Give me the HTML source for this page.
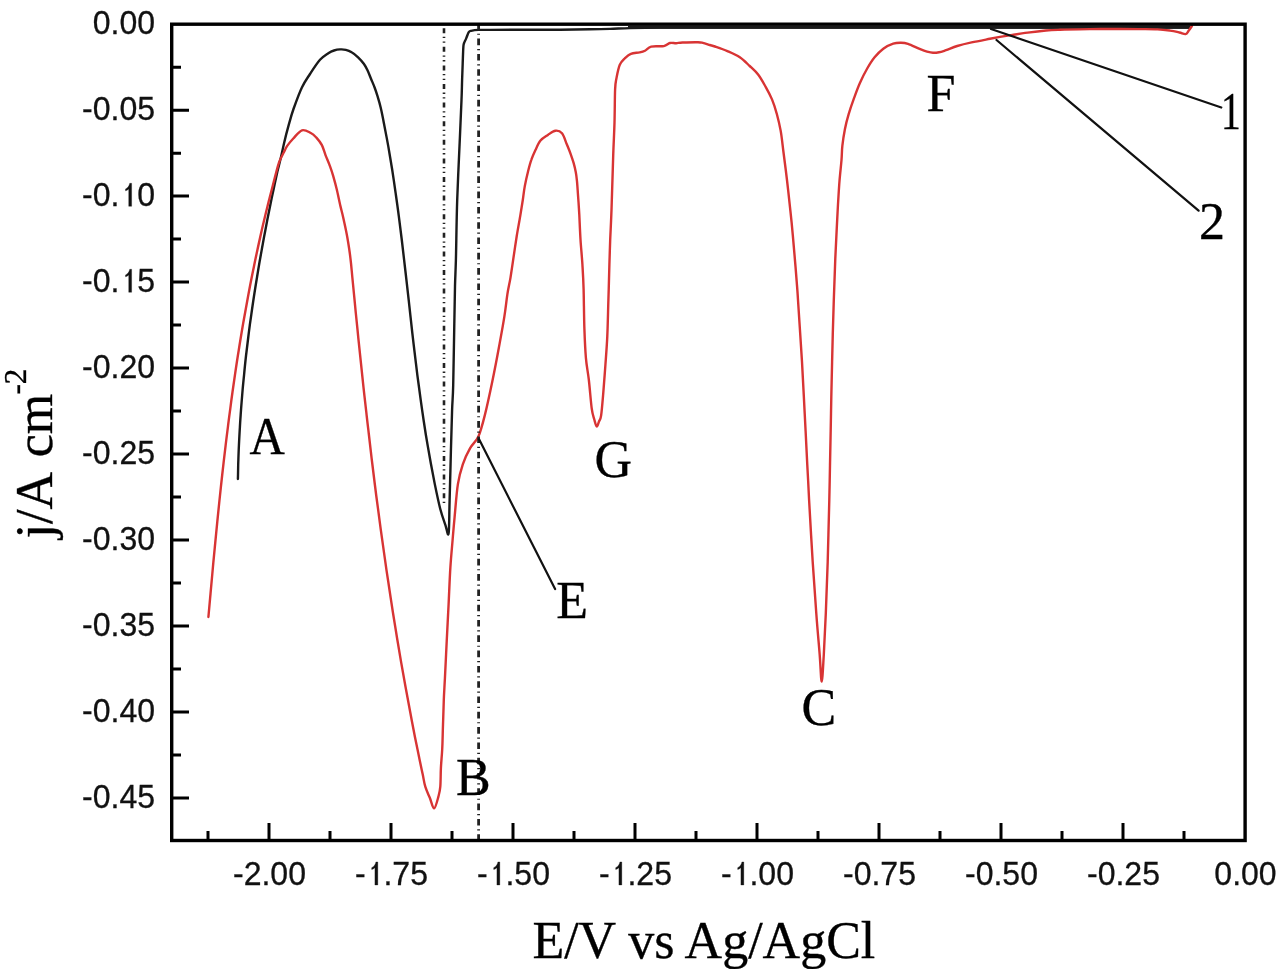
<!DOCTYPE html><html><head><meta charset="utf-8"><style>html,body{margin:0;padding:0;background:#fff;width:1280px;height:969px;overflow:hidden}svg{display:block;filter:blur(0.4px)}</style></head><body>
<svg width="1280" height="969" viewBox="0 0 1280 969">
<rect width="1280" height="969" fill="#fff"/>
<path d="M237.9,479.0 C238.0,476.6 238.1,469.9 238.2,464.3 C238.4,458.8 238.6,451.9 238.9,445.7 C239.2,439.5 239.5,433.3 239.9,427.1 C240.2,420.9 240.7,414.8 241.1,408.6 C241.6,402.4 242.1,395.6 242.6,390.0 C243.1,384.4 243.5,380.5 244.1,374.7 C244.6,368.9 245.4,361.3 246.1,355.0 C246.9,348.7 247.7,342.2 248.3,337.0 C248.9,331.8 249.1,330.4 250.0,323.7 C251.0,317.0 252.5,305.8 253.9,296.8 C255.2,287.9 256.8,278.6 258.2,270.0 C259.6,261.4 261.3,252.2 262.5,245.5 C263.7,238.8 264.1,236.5 265.4,230.0 C266.6,223.5 268.6,213.4 270.0,206.6 C271.3,199.8 272.3,195.1 273.6,189.3 C274.8,183.5 276.1,177.3 277.3,171.9 C278.6,166.5 279.9,161.8 281.0,157.1 C282.1,152.3 282.8,148.6 284.0,143.4 C285.2,138.2 286.8,131.8 288.4,126.1 C290.0,120.4 291.2,115.4 293.5,109.0 C295.8,102.6 299.1,93.3 301.9,87.5 C304.6,81.7 307.0,78.6 310.0,74.0 C313.0,69.4 316.9,63.3 320.0,59.8 C323.1,56.3 326.0,54.8 328.3,53.2 C330.6,51.7 332.1,51.1 334.0,50.5 C335.9,49.9 338.0,49.5 340.0,49.4 C342.0,49.3 343.9,49.3 345.8,49.8 C347.7,50.3 349.6,51.0 351.6,52.3 C353.7,53.5 356.1,55.4 358.1,57.3 C360.1,59.2 362.2,61.6 363.8,63.8 C365.4,66.0 366.3,67.8 367.5,70.3 C368.7,72.8 369.9,76.1 371.1,79.0 C372.3,81.9 373.6,84.8 374.7,87.7 C375.8,90.6 376.6,93.2 377.6,96.4 C378.6,99.7 379.6,102.7 380.6,107.2 C381.7,111.7 382.7,116.7 383.9,123.2 C385.2,129.7 386.9,138.7 388.3,146.4 C389.6,154.2 390.9,161.9 392.2,169.7 C393.4,177.4 394.5,185.2 395.6,192.9 C396.7,200.6 397.8,208.2 398.8,216.1 C399.8,223.9 400.7,230.8 401.8,240.0 C402.9,249.2 404.2,260.7 405.4,271.0 C406.6,281.3 407.7,291.6 408.9,301.9 C410.0,312.2 411.2,322.6 412.3,332.9 C413.5,343.2 414.9,355.1 416.0,363.8 C417.0,372.5 417.6,377.3 418.7,385.0 C419.7,392.7 420.9,401.6 422.1,409.8 C423.3,418.1 424.5,426.2 425.8,434.5 C427.2,442.8 428.6,451.0 430.1,459.3 C431.6,467.6 433.2,475.9 434.8,484.1 C436.5,492.4 438.5,501.9 440.2,508.8 C442.0,515.7 444.1,521.3 445.5,525.4 C446.9,529.5 447.9,537.5 448.6,533.4 C449.3,529.3 449.2,514.3 449.6,500.6 C450.0,486.9 450.5,466.1 450.9,451.0 C451.3,435.9 451.7,420.8 452.1,409.8 C452.5,398.8 452.9,398.3 453.2,385.0 C453.5,371.7 453.9,346.5 454.2,330.0 C454.5,313.5 454.7,297.7 455.0,286.0 C455.3,274.3 455.5,274.3 455.9,260.0 C456.3,245.7 456.5,220.8 457.2,200.0 C457.9,179.2 459.3,151.7 460.0,135.0 C460.7,118.3 461.1,109.2 461.5,100.0 C461.9,90.8 461.9,86.1 462.1,80.0 C462.3,73.9 462.5,68.6 462.7,63.3 C462.9,57.9 463.1,51.2 463.3,47.9 C463.5,44.6 463.4,45.0 463.9,43.5 C464.4,42.0 465.3,40.5 466.1,38.6 C466.9,36.8 467.8,33.7 468.6,32.4 C469.4,31.1 469.5,31.2 471.1,30.8 C472.8,30.4 475.4,30.0 478.5,29.9 C481.6,29.8 483.1,29.9 490.0,29.9 C496.9,29.9 508.3,29.7 520.0,29.7 C531.7,29.7 548.3,29.8 560.0,29.7 C571.7,29.6 581.7,29.4 590.0,29.3 C598.3,29.2 603.3,29.1 610.0,28.9 C616.7,28.7 621.7,28.3 630.0,28.1 C638.3,27.9 648.3,27.7 660.0,27.6 C671.7,27.5 676.7,27.5 700.0,27.5 C723.3,27.5 766.7,27.5 800.0,27.5 C833.3,27.5 866.7,27.5 900.0,27.5 C933.3,27.5 966.7,27.5 1000.0,27.5 C1033.3,27.5 1068.3,27.5 1100.0,27.5 C1131.7,27.5 1175.0,27.5 1190.0,27.5" fill="none" stroke="#1a1a1a" stroke-width="2.4" stroke-linejoin="round" stroke-linecap="round"/>
<path d="M628,27.35 H1190" stroke="#1a1a1a" stroke-width="3"/>
<path d="M208.4,617.0 C208.8,613.1 209.7,602.8 210.5,593.8 C211.3,584.8 212.4,573.2 213.3,562.9 C214.3,552.6 215.3,542.2 216.3,531.9 C217.3,521.6 218.4,510.5 219.4,501.0 C220.4,491.5 221.2,484.2 222.2,475.0 C223.2,465.8 224.6,453.7 225.6,445.7 C226.5,437.7 227.1,433.3 227.9,427.1 C228.6,420.9 229.5,414.5 230.3,408.6 C231.0,402.8 231.7,397.6 232.5,392.0 C233.3,386.4 234.0,381.6 235.0,374.7 C236.0,367.8 237.3,359.0 238.7,350.5 C240.0,342.0 241.6,332.6 243.1,323.7 C244.7,314.8 246.3,305.8 248.0,296.8 C249.6,287.9 251.6,277.8 253.2,270.0 C254.8,262.2 255.9,256.7 257.4,250.0 C258.8,243.3 260.4,236.4 261.8,230.0 C263.3,223.6 264.9,217.1 266.2,211.5 C267.6,205.9 268.5,202.1 269.9,196.7 C271.3,191.3 272.9,185.1 274.4,179.3 C276.0,173.5 277.6,166.5 279.2,162.0 C280.8,157.5 282.7,154.8 284.0,152.1 C285.3,149.4 285.6,148.2 287.2,145.9 C288.8,143.6 290.8,141.1 293.3,138.5 C295.8,135.9 299.1,131.2 302.0,130.3 C304.9,129.4 308.4,131.8 310.8,133.0 C313.2,134.2 314.5,135.6 316.4,137.6 C318.2,139.6 320.4,142.1 321.9,145.1 C323.4,148.1 324.4,152.1 325.6,155.3 C326.9,158.6 328.1,161.2 329.4,164.6 C330.6,168.0 331.9,171.5 333.1,175.7 C334.3,179.9 335.6,184.5 336.8,189.6 C338.0,194.7 339.4,201.8 340.5,206.4 C341.6,211.1 342.1,212.3 343.2,217.5 C344.3,222.7 346.1,230.4 347.3,237.3 C348.5,244.2 349.7,251.7 350.5,258.8 C351.4,265.9 351.7,271.0 352.6,280.0 C353.5,289.0 354.9,303.4 355.8,313.0 C356.8,322.6 357.5,329.5 358.3,337.8 C359.2,346.1 360.0,354.4 360.9,362.6 C361.7,370.9 362.6,379.1 363.5,387.3 C364.4,395.6 365.4,404.5 366.3,412.1 C367.1,419.7 367.7,424.5 368.7,433.0 C369.6,441.5 370.9,452.5 372.2,463.0 C373.5,473.5 374.9,485.0 376.3,496.0 C377.8,507.0 379.3,518.6 380.7,529.1 C382.1,539.6 383.6,550.0 384.9,558.8 C386.1,567.6 386.9,573.0 388.3,582.0 C389.6,591.0 391.6,603.7 393.0,613.0 C394.5,622.3 395.7,629.5 397.0,637.8 C398.4,646.1 399.8,654.4 401.2,662.6 C402.6,670.9 404.1,679.1 405.6,687.3 C407.1,695.5 408.6,703.7 410.2,712.0 C411.7,720.3 413.6,729.9 415.0,737.2 C416.5,744.5 417.5,749.5 418.8,755.7 C420.0,761.9 421.6,769.1 422.7,774.3 C423.8,779.5 424.1,782.8 425.3,786.7 C426.5,790.6 428.3,794.2 429.8,797.8 C431.3,801.4 432.7,808.6 434.1,808.4 C435.5,808.2 437.4,800.2 438.4,796.6 C439.4,793.0 439.9,791.5 440.3,786.7 C440.7,782.0 440.6,774.3 440.9,768.1 C441.2,761.9 441.8,756.7 442.2,749.5 C442.6,742.3 442.7,733.0 443.0,724.8 C443.3,716.5 443.5,707.7 443.8,700.0 C444.1,692.3 444.4,688.4 444.9,678.6 C445.4,668.9 446.1,653.9 446.7,641.5 C447.3,629.1 448.0,616.7 448.6,604.3 C449.2,591.9 449.7,577.9 450.4,567.2 C451.1,556.5 451.9,548.4 452.6,540.0 C453.3,531.6 453.7,526.4 454.6,517.1 C455.5,507.8 456.5,492.9 457.9,484.1 C459.3,475.3 460.8,470.3 462.8,464.3 C464.8,458.3 467.4,452.9 470.0,448.3 C472.6,443.7 475.9,442.1 478.4,436.5 C480.9,430.9 482.6,424.1 484.9,414.9 C487.2,405.7 490.0,392.6 492.3,381.5 C494.6,370.4 496.8,358.9 498.8,348.0 C500.8,337.1 503.0,325.4 504.4,316.4 C505.8,307.4 506.4,300.6 507.4,294.1 C508.4,287.6 509.5,283.8 510.5,277.6 C511.5,271.4 512.6,263.8 513.6,256.9 C514.6,250.0 515.6,243.2 516.7,236.3 C517.8,229.4 519.3,221.7 520.3,215.6 C521.3,209.5 522.0,204.9 522.8,200.0 C523.5,195.1 523.9,190.9 524.8,186.1 C525.7,181.3 527.0,175.6 528.1,171.2 C529.2,166.8 530.1,163.2 531.4,159.6 C532.6,156.0 534.1,152.9 535.6,149.7 C537.1,146.5 538.5,143.1 540.5,140.6 C542.5,138.1 545.4,136.6 547.9,134.9 C550.4,133.2 553.0,131.0 555.4,130.7 C557.8,130.4 560.1,131.0 562.0,133.3 C563.9,135.6 565.4,140.9 566.8,144.3 C568.2,147.7 569.4,150.5 570.5,153.6 C571.6,156.7 572.7,159.8 573.6,162.9 C574.5,166.0 575.2,169.1 575.8,172.2 C576.4,175.3 576.6,177.6 577.0,181.4 C577.4,185.2 577.7,191.1 578.0,195.0 C578.3,198.9 578.5,201.7 578.7,205.0 C578.9,208.3 579.0,209.1 579.3,214.8 C579.6,220.6 580.0,231.2 580.5,239.5 C581.0,247.8 581.9,256.0 582.4,264.3 C582.9,272.6 583.3,278.3 583.6,289.1 C583.9,299.9 584.0,317.4 584.4,328.9 C584.8,340.3 585.2,349.4 585.9,357.8 C586.6,366.2 587.8,371.1 588.8,379.5 C589.8,387.9 590.8,401.7 591.7,408.4 C592.6,415.1 593.5,416.5 594.3,419.5 C595.1,422.5 595.9,426.1 596.7,426.4 C597.5,426.7 598.3,423.3 599.0,421.5 C599.7,419.7 600.4,420.2 601.1,415.6 C601.8,411.0 602.5,402.3 603.2,393.9 C603.9,385.5 604.7,374.6 605.4,365.0 C606.1,355.4 606.8,346.9 607.3,336.1 C607.8,325.3 608.0,312.0 608.4,300.0 C608.8,288.0 609.1,274.4 609.4,264.3 C609.7,254.2 609.9,248.6 610.2,239.5 C610.6,230.4 611.0,224.0 611.5,210.0 C612.0,196.0 612.7,170.2 613.2,155.6 C613.7,141.0 614.2,133.6 614.5,122.6 C614.8,111.6 614.8,96.9 615.1,89.5 C615.4,82.1 615.7,82.1 616.5,78.0 C617.3,73.9 618.4,68.0 619.8,64.8 C621.2,61.5 622.9,60.3 624.7,58.5 C626.6,56.7 628.4,54.8 630.9,53.8 C633.4,52.8 637.1,52.9 639.5,52.4 C641.9,51.9 643.0,51.7 645.0,50.7 C647.0,49.7 648.1,47.4 651.2,46.6 C654.4,45.8 660.6,46.7 663.8,46.1 C666.9,45.5 667.9,43.5 670.0,43.0 C672.1,42.5 674.2,43.3 676.2,43.2 C678.3,43.1 678.9,42.6 682.5,42.5 C686.1,42.4 694.6,42.2 698.0,42.3 C701.4,42.4 700.8,42.4 702.8,42.9 C704.8,43.4 707.8,44.4 709.8,45.0 C711.8,45.6 712.1,45.5 715.0,46.5 C717.9,47.5 723.3,49.3 727.4,51.1 C731.5,52.9 736.1,54.8 739.8,57.3 C743.5,59.8 746.6,63.1 749.7,66.0 C752.8,68.9 755.6,71.2 758.3,74.7 C761.0,78.2 763.5,83.0 765.8,87.1 C768.1,91.2 770.1,94.9 772.0,99.4 C773.9,103.9 775.5,109.1 776.9,114.3 C778.3,119.5 779.5,124.5 780.6,130.4 C781.7,136.3 782.2,141.6 783.2,150.0 C784.3,158.4 785.9,170.7 787.1,181.0 C788.3,191.3 789.6,202.9 790.5,211.9 C791.5,220.9 792.1,227.3 792.8,235.1 C793.5,242.8 794.2,250.6 794.8,258.4 C795.5,266.1 796.2,274.7 796.7,281.6 C797.2,288.5 797.2,286.6 798.0,300.0 C798.9,313.4 800.8,343.0 802.0,361.9 C803.1,380.8 803.8,396.3 804.7,413.5 C805.6,430.7 806.6,450.7 807.3,465.1 C808.1,479.5 808.3,483.9 809.1,500.0 C810.0,516.1 811.5,543.0 812.7,561.9 C813.9,580.8 815.1,598.0 816.3,613.5 C817.4,629.0 818.8,643.4 819.7,654.8 C820.6,666.1 821.0,681.6 821.7,681.6 C822.4,681.6 823.1,666.1 823.8,654.8 C824.4,643.4 825.1,629.0 825.8,613.5 C826.4,598.0 827.1,580.8 827.7,561.9 C828.2,543.0 828.9,516.1 829.3,500.0 C829.7,483.9 829.7,479.5 830.0,465.1 C830.3,450.7 830.7,430.7 831.0,413.5 C831.3,396.3 831.6,380.8 832.1,361.9 C832.5,343.0 833.2,317.2 833.8,300.0 C834.3,282.8 834.8,270.5 835.3,258.4 C835.8,246.3 836.3,236.4 836.8,227.4 C837.2,218.4 837.6,211.9 838.0,204.2 C838.5,196.5 838.9,188.4 839.5,181.0 C840.1,173.6 841.0,165.9 841.5,160.0 C842.0,154.1 841.8,150.4 842.4,145.3 C843.0,140.2 843.9,134.4 844.9,129.2 C845.9,124.0 847.1,119.3 848.6,114.3 C850.1,109.3 851.7,104.6 853.6,99.4 C855.5,94.2 857.5,88.5 859.8,83.3 C862.1,78.1 864.7,72.8 867.2,68.5 C869.7,64.2 871.9,60.6 874.6,57.3 C877.3,54.0 880.2,51.0 883.3,48.7 C886.4,46.4 890.2,44.7 893.2,43.7 C896.2,42.7 898.5,42.8 901.0,42.8 C903.5,42.8 904.9,42.8 908.0,43.8 C911.1,44.8 916.4,47.6 919.6,48.9 C922.8,50.2 924.8,51.0 927.0,51.6 C929.2,52.2 931.0,52.7 933.0,52.8 C935.0,52.9 936.8,52.7 939.0,52.3 C941.2,51.9 943.0,51.2 946.0,50.2 C949.0,49.2 952.9,47.3 957.2,46.0 C961.5,44.7 966.1,43.6 971.6,42.4 C977.1,41.2 983.7,40.0 990.0,38.8 C996.3,37.6 1003.1,36.4 1009.4,35.4 C1015.7,34.4 1021.6,33.4 1027.7,32.6 C1033.8,31.8 1040.6,31.0 1046.0,30.5 C1051.4,30.0 1052.7,30.0 1060.0,29.8 C1067.3,29.6 1079.7,29.2 1089.7,29.1 C1099.7,29.0 1111.8,29.0 1120.0,29.0 C1128.2,29.0 1132.5,29.0 1138.8,29.1 C1145.0,29.2 1152.3,29.1 1157.5,29.4 C1162.7,29.6 1166.3,30.1 1170.0,30.6 C1173.7,31.1 1176.8,31.9 1179.4,32.5 C1182.0,33.1 1184.0,34.4 1185.6,34.1 C1187.2,33.8 1187.7,32.0 1188.8,30.6 C1189.8,29.2 1191.4,26.8 1191.9,26.0" fill="none" stroke="#d83434" stroke-width="2.4" stroke-linejoin="round" stroke-linecap="round"/>
<line x1="444" y1="24.2" x2="444" y2="504" stroke="#222" stroke-width="2.6" stroke-dasharray="5 3.6 1.3 3.4 1.3 4" stroke-dashoffset="14.6"/>
<line x1="478.6" y1="24.2" x2="478.6" y2="840" stroke="#222" stroke-width="2.8" stroke-dasharray="6.6 3.75 1.2 3.75" stroke-dashoffset="0.9"/>
<g stroke="#111" stroke-width="2.2" stroke-linecap="round">
<line x1="479.1" y1="439.3" x2="555.1" y2="589.1"/>
<line x1="991" y1="29" x2="1221.3" y2="107.5"/>
<line x1="996.5" y1="40" x2="1198.6" y2="210.7"/>
</g>
<rect x="171.7" y="24.2" width="1073.4" height="816.3" fill="none" stroke="#000" stroke-width="3.4"/>
<path d="M269.0,840.5 V823 M391.0,840.5 V823 M513.0,840.5 V823 M635.0,840.5 V823 M757.0,840.5 V823 M879.0,840.5 V823 M1001.0,840.5 V823 M1123.0,840.5 V823 M208.0,840.5 V831 M330.0,840.5 V831 M452.0,840.5 V831 M574.0,840.5 V831 M696.0,840.5 V831 M818.0,840.5 V831 M940.0,840.5 V831 M1062.0,840.5 V831 M1184.0,840.5 V831 M171.7,110.2 H189 M171.7,196.1 H189 M171.7,282.1 H189 M171.7,368.1 H189 M171.7,454.1 H189 M171.7,540.0 H189 M171.7,626.0 H189 M171.7,712.0 H189 M171.7,797.9 H189 M171.7,67.2 H181 M171.7,153.2 H181 M171.7,239.1 H181 M171.7,325.1 H181 M171.7,411.1 H181 M171.7,497.0 H181 M171.7,583.0 H181 M171.7,669.0 H181 M171.7,754.9 H181" stroke="#000" stroke-width="3" fill="none"/>
<g font-family="Liberation Sans, sans-serif" font-size="33.5" fill="#111" stroke="#111" stroke-width="0.3">
<text x="155.1" y="34.4" text-anchor="end" textLength="62.3" lengthAdjust="spacingAndGlyphs">0.00</text>
<text x="155.1" y="120.4" text-anchor="end" textLength="73.0" lengthAdjust="spacingAndGlyphs">-0.05</text>
<text x="155.1" y="206.3" text-anchor="end" textLength="73.0" lengthAdjust="spacingAndGlyphs">-0. 0</text>
<text x="155.1" y="292.3" text-anchor="end" textLength="73.0" lengthAdjust="spacingAndGlyphs">-0. 5</text>
<text x="155.1" y="378.3" text-anchor="end" textLength="73.0" lengthAdjust="spacingAndGlyphs">-0.20</text>
<text x="155.1" y="464.2" text-anchor="end" textLength="73.0" lengthAdjust="spacingAndGlyphs">-0.25</text>
<text x="155.1" y="550.2" text-anchor="end" textLength="73.0" lengthAdjust="spacingAndGlyphs">-0.30</text>
<text x="155.1" y="636.2" text-anchor="end" textLength="73.0" lengthAdjust="spacingAndGlyphs">-0.35</text>
<text x="155.1" y="722.2" text-anchor="end" textLength="73.0" lengthAdjust="spacingAndGlyphs">-0.40</text>
<text x="155.1" y="808.1" text-anchor="end" textLength="73.0" lengthAdjust="spacingAndGlyphs">-0.45</text>
<text x="269.5" y="885.0" text-anchor="middle" textLength="73.0" lengthAdjust="spacingAndGlyphs">-2.00</text>
<text x="391.5" y="885.0" text-anchor="middle" textLength="73.0" lengthAdjust="spacingAndGlyphs">- .75</text>
<text x="513.5" y="885.0" text-anchor="middle" textLength="73.0" lengthAdjust="spacingAndGlyphs">- .50</text>
<text x="635.5" y="885.0" text-anchor="middle" textLength="73.0" lengthAdjust="spacingAndGlyphs">- .25</text>
<text x="757.5" y="885.0" text-anchor="middle" textLength="73.0" lengthAdjust="spacingAndGlyphs">- .00</text>
<text x="879.5" y="885.0" text-anchor="middle" textLength="73.0" lengthAdjust="spacingAndGlyphs">-0.75</text>
<text x="1001.5" y="885.0" text-anchor="middle" textLength="73.0" lengthAdjust="spacingAndGlyphs">-0.50</text>
<text x="1123.5" y="885.0" text-anchor="middle" textLength="73.0" lengthAdjust="spacingAndGlyphs">-0.25</text>
<text x="1245.5" y="885.0" text-anchor="middle" textLength="62.3" lengthAdjust="spacingAndGlyphs">0.00</text>
</g>
<g fill="#111" stroke="#111" stroke-width="0.3" vector-effect="non-scaling-stroke">
<path vector-effect="non-scaling-stroke" transform="translate(119.47,206.34) scale(0.01564,-0.01636)" d="M777 0V1409H655C628 1262 540 1130 385 1060V950C480 975 545 1010 592 1060V0Z"/>
<path vector-effect="non-scaling-stroke" transform="translate(119.47,292.31) scale(0.01564,-0.01636)" d="M777 0V1409H655C628 1262 540 1130 385 1060V950C480 975 545 1010 592 1060V0Z"/>
<path vector-effect="non-scaling-stroke" transform="translate(365.66,885.00) scale(0.01564,-0.01636)" d="M777 0V1409H655C628 1262 540 1130 385 1060V950C480 975 545 1010 592 1060V0Z"/>
<path vector-effect="non-scaling-stroke" transform="translate(487.66,885.00) scale(0.01564,-0.01636)" d="M777 0V1409H655C628 1262 540 1130 385 1060V950C480 975 545 1010 592 1060V0Z"/>
<path vector-effect="non-scaling-stroke" transform="translate(609.66,885.00) scale(0.01564,-0.01636)" d="M777 0V1409H655C628 1262 540 1130 385 1060V950C480 975 545 1010 592 1060V0Z"/>
<path vector-effect="non-scaling-stroke" transform="translate(731.66,885.00) scale(0.01564,-0.01636)" d="M777 0V1409H655C628 1262 540 1130 385 1060V950C480 975 545 1010 592 1060V0Z"/>
</g>
<g font-family="Liberation Serif, serif" font-size="52" fill="#000" stroke="#000" stroke-width="0.35">
<text x="249.4" y="454.2" transform="translate(249.6,0) scale(0.94,1) translate(-249.6,0)">A</text>
<text x="456.1" y="795.2">B</text>
<text x="801.4" y="724.9">C</text>
<text x="556.3" y="618.0">E</text>
<text x="926.5" y="110.8">F</text>
<text x="594.6" y="477.3">G</text>
<text x="1217.8" y="129.3" transform="translate(1231.3,0) scale(0.76,1) translate(-1231.3,0)">1</text>
<text x="1198.9" y="239.0">2</text>
<text x="532.4" y="958.1">E/V vs Ag/AgCl</text>
<text transform="translate(52,538.5) rotate(-90)">j/A</text>
<text transform="translate(52,457.3) rotate(-90)">cm</text>
<text font-size="31" transform="translate(25.5,394.5) rotate(-90)">-2</text>
</g>
</svg></body></html>
